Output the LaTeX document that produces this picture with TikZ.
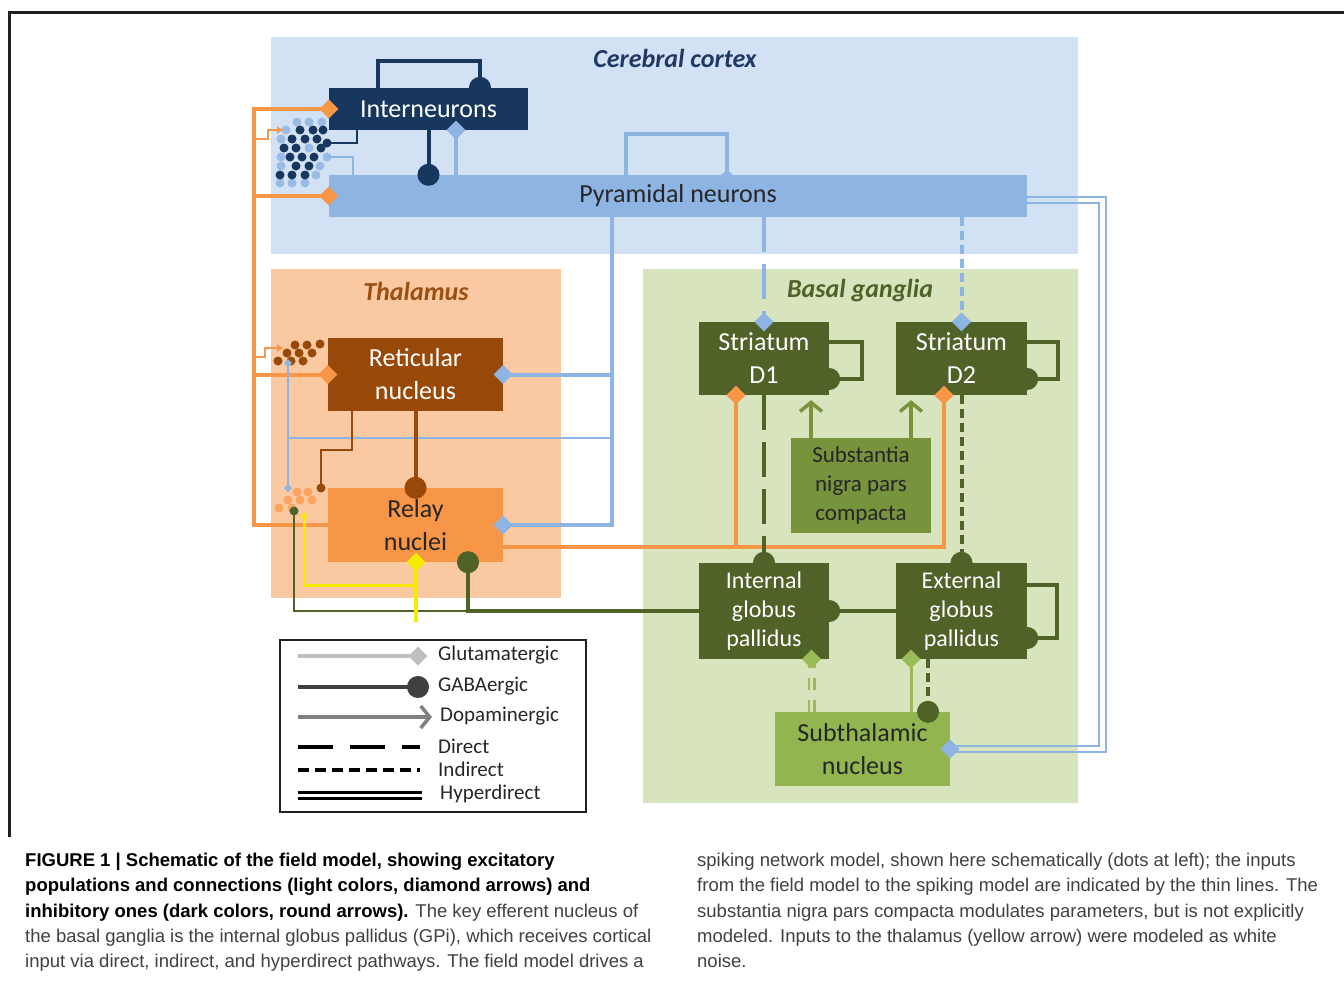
\documentclass[tikz,border=0pt]{standalone}
\usepackage{fontspec}
\setmainfont{Carlito}
\newfontfamily\capfont{Liberation Sans}
\usetikzlibrary{arrows.meta,calc}

\definecolor{cortexbg}{HTML}{D3E1F5}
\definecolor{navy}{HTML}{17375E}
\definecolor{pyrblue}{HTML}{8EB4E3}
\definecolor{thalbg}{HTML}{FAC9A2}
\definecolor{retbrown}{HTML}{984807}
\definecolor{relorange}{HTML}{F79646}
\definecolor{relspike}{HTML}{F9A45F}
\definecolor{bgbg}{HTML}{D7E4BD}
\definecolor{bgdark}{HTML}{4F6228}
\definecolor{sncgreen}{HTML}{77933C}
\definecolor{stngreen}{HTML}{92B550}
\definecolor{stnline}{HTML}{9BBB59}
\definecolor{noiseyellow}{HTML}{F7EC00}
\definecolor{frameblack}{HTML}{231F20}
\definecolor{captext}{HTML}{404040}
\definecolor{cortextitle}{HTML}{1F3864}
\definecolor{thaltitle}{HTML}{9C4F12}

\tikzset{
  box/.style={rectangle, inner sep=0pt, align=center},
  boxfont/.style={font=\fontsize{26}{33}\selectfont},
  gpfont/.style={font=\fontsize{24}{29}\selectfont},
  title/.style={font=\fontsize{26}{30}\selectfont\bfseries\itshape},
  legendtext/.style={anchor=west, inner sep=0pt, font=\fontsize{21}{24}\selectfont, text=black!85},
  wire/.style={line width=4pt},
  thinwire/.style={line width=2pt},
  glut/.style={-{Diamond[length=19pt,width=19pt]}, shorten >=-9.5pt},
  smallglut/.style={-{Diamond[length=8pt,width=8pt]}, shorten >=-4pt},
  gaba/.style={-{Circle[length=22pt]}, shorten >=-11pt},
  dopa/.style={-{Straight Barb[length=9pt,width=22pt]}, line width=3.5pt},
  spikein/.style={-{Triangle[length=6pt,width=7pt]}},
  direct/.style={dash pattern=on 35pt off 12pt},
  indirect/.style={dash pattern=on 9pt off 5pt},
  caption/.style={anchor=north west, inner sep=0pt, align=left, text=captext,
    font=\capfont\fontsize{18.5}{25.3}\selectfont}
}

\begin{document}
\begin{tikzpicture}[x=1pt, y=-1pt]
\useasboundingbox (0,0) rectangle (1344,980);
% frame
\draw[frameblack, line width=3pt] (9,837) -- (9,12) -- (1344,12);

% regions
\fill[cortexbg] (271,37) rectangle (1078,254);
\fill[thalbg] (271,269) rectangle (561,598);
\fill[bgbg] (643,269) rectangle (1078,803);
\node[title, text=cortextitle] (cortex) at (675,58) {Cerebral cortex};
\node[title, text=thaltitle] (thal) at (416,291) {Thalamus};
\node[title, text=bgdark] (bg) at (860,291) {Basal ganglia};

% populations
\node[box, boxfont, fill=navy, text=white, minimum width=199, minimum height=42] (intn) at (428.5,109) {Interneurons};
\node[box, boxfont, fill=pyrblue, text=black!85, minimum width=698, minimum height=42] (pyr) at (678,196) {Pyramidal neurons};
\node[box, boxfont, fill=retbrown, text=white, minimum width=175, minimum height=73] (ret) at (415.5,374.5) {Reticular\\nucleus};
\node[box, boxfont, fill=relorange, text=black!85, minimum width=175, minimum height=74] (rel) at (415.5,525) {Relay\\nuclei};
\node[box, boxfont, fill=bgdark, text=white, minimum width=130, minimum height=73] (d1) at (764,358.5) {Striatum\\D1};
\node[box, boxfont, fill=bgdark, text=white, minimum width=131, minimum height=73] (d2) at (961.5,358.5) {Striatum\\D2};
\node[box, font=\fontsize{23}{29}\selectfont, fill=sncgreen, text=black!85, minimum width=140, minimum height=95] (snc) at (861,485.5) {Substantia\\nigra pars\\compacta};
\node[box, gpfont, fill=bgdark, text=white, minimum width=130, minimum height=96] (gpi) at (764,611) {Internal\\globus\\pallidus};
\node[box, gpfont, fill=bgdark, text=white, minimum width=131, minimum height=96] (gpe) at (961.5,611) {External\\globus\\pallidus};
\node[box, boxfont, fill=stngreen, text=black!85, minimum width=175, minimum height=74] (stn) at (862.5,749) {Subthalamic\\nucleus};

% spiking network dots
\coordinate (cxorange) at (283,130);
\coordinate (cxnavy) at (327,143);
\coordinate (cxblue) at (327,157);
\coordinate (retorange) at (283,348);
\coordinate (retblue) at (288,363);
\coordinate (relblue) at (288,488);
\coordinate (relbrown) at (321,488);
\coordinate (relgreen) at (294,511);
\coordinate (relyellow) at (304,512);
\foreach \p in {(297,122),(309,122),(322,122),(286,130),(281,139),(309,148),(281,157),(327,157),
                (281,166),(320,166),(316,175),(280,183),(292,183),(305,183)}
  \fill[pyrblue!90!white] \p circle (4.5);
\foreach \p in {(300,130),(313,130),(323,130),(292,139),(305,139),(317,139),(327,143),(284,148),
                (296,148),(321,148),(290,157),(302,157),(314,157),(296,166),(309,166),(280,175),
                (292,175),(305,175)}
  \fill[navy] \p circle (4.5);
\foreach \p in {(295,345),(307,345),(320,344),(287,353),(299,353),(312,353),(278,361),(291,361),(303,361)}
  \fill[retbrown] \p circle (4.5);
\foreach \p in {(297,492),(308,492),(288,500),(300,500),(312,500),(279,508),(292,508)}
  \fill[relspike] \p circle (4.5);
\fill[retbrown] (relbrown) circle (4.5);
\fill[bgdark] (relgreen) circle (4.5);

% cortex
\draw[navy, wire, gaba] ([xshift=-50.5pt]intn.north) -- ++(0,-27) -| ([xshift=51.5pt]intn.north);
\draw[pyrblue, wire, -{Diamond[length=11pt,width=11pt]}, shorten >=-5.5pt]
  ([xshift=-52pt]pyr.north) -- ++(0,-41) -| ([xshift=49pt]pyr.north);
\draw[navy, wire, gaba] (intn.south) -- (intn.south |- pyr.north);
\coordinate (intnfb) at ([xshift=27.5pt]intn.south);
\draw[pyrblue, wire, glut] (intnfb |- pyr.north) -- (intnfb);
\draw[navy, thinwire] ([xshift=-71.5pt]intn.south) |- (cxnavy);
\draw[pyrblue, thinwire] ([xshift=-325pt]pyr.north) |- (cxblue);

% thalamus to cortex
\draw[relorange, wire, glut] (rel.west) -- ++(-74,0) coordinate (ocol) |- (intn.west);
\draw[relorange, wire, glut] (ocol |- pyr.west) -- (pyr.west);
\draw[relorange, wire, glut] (ocol |- ret.west) -- (ret.west);
\draw[relorange, thinwire, spikein] ($(ocol |- cxorange)+(0,9)$) -- ++(14,0) |- (cxorange);
\draw[relorange, thinwire, spikein] ($(ocol |- retorange)+(0,9)$) -- ++(11,0) |- (retorange);

% cortex to thalamus
\draw[pyrblue, wire, glut] ([xshift=-66pt]pyr.south) coordinate (bcol) |- (rel.east);
\draw[pyrblue, wire, glut] (bcol |- ret.east) -- (ret.east);
\coordinate (bjoin) at (288,438);
\draw[pyrblue, thinwire] (bcol |- bjoin) -- (bjoin);
\draw[pyrblue, thinwire, smallglut] (bjoin) -- (retblue);
\draw[pyrblue, thinwire, smallglut] (bjoin) -- (relblue);

% reticular to relay
\draw[retbrown, wire, gaba] (ret.south) -- (rel.north);
\draw[retbrown, thinwire] ([xshift=-63.5pt]ret.south) |- ($(relbrown)+(0,-38)$) -- (relbrown);

% cortex to striatum
\draw[pyrblue, wire, direct, glut] (pyr.south -| d1.north) -- (d1.north);
\draw[pyrblue, wire, indirect, glut] (pyr.south -| d2.north) -- (d2.north);
\draw[bgdark, wire, gaba] ([yshift=16.5pt]d1.east) -- ++(33,0) |- ([yshift=-20.5pt]d1.east);
\draw[bgdark, wire, gaba] ([yshift=16.5pt]d2.east) -- ++(31,0) |- ([yshift=-20.5pt]d2.east);

% substantia nigra
\coordinate (sncl) at ([xshift=-50pt]snc.north);
\coordinate (sncr) at ([xshift=50pt]snc.north);
\draw[sncgreen, dopa, shorten >=5pt] (sncl) -- (sncl |- d1.south);
\draw[sncgreen, dopa, shorten >=5pt] (sncr) -- (sncr |- d2.south);

% thalamus to striatum
\coordinate (relout) at ([yshift=-22pt]rel.east);
\coordinate (d1in) at ([xshift=-28pt]d1.south);
\coordinate (d2in) at ([xshift=-17.5pt]d2.south);
\draw[relorange, wire, glut] (relout) -| (d2in);
\draw[relorange, wire, glut] (relout -| d1in) -- (d1in);

% striatum to pallidus
\draw[bgdark, wire, direct, gaba] (d1.south) -- (gpi.north);
\draw[bgdark, wire, indirect, gaba] (d2.south) -- (gpe.north);
\draw[bgdark, wire, gaba] (gpe.west) -- (gpi.east);
\draw[bgdark, wire, gaba] ([yshift=26pt]gpe.east) -- ++(30,0) |- ([yshift=-27pt]gpe.east);

% pallidus to relay
\coordinate (relin) at ([xshift=52.5pt]rel.south);
\draw[bgdark, wire, gaba] (gpi.west) -| (relin);
\draw[bgdark, thinwire] (relin |- gpi.west) -| (relgreen);

% noise input
\coordinate (noise) at (416,622);
\coordinate (ybr) at (416,585);
\draw[noiseyellow, wire, glut] (noise) -- (noise |- rel.south);
\draw[noiseyellow, line width=3pt, spikein] (ybr) -| (relyellow);

% subthalamic nucleus
\coordinate (stnl) at ([xshift=-51pt]stn.north);
\coordinate (stnr) at ([xshift=48.5pt]stn.north);
\coordinate (gpeout) at ([xshift=-33.5pt]gpe.south);
\draw[stnline, line width=2.5pt, double=bgbg, double distance=3pt, dash pattern=on 12pt off 10pt]
  (stnl) -- ($(stnl |- gpi.south)+(0,6)$);
\draw[stnline, wire, glut] ($(stnl |- gpi.south)+(0,4)$) -- (stnl |- gpi.south);
\draw[stnline, line width=3pt, glut] (stnr) -- (stnr |- gpe.south);
\draw[bgdark, wire, indirect, gaba] (gpeout) -- (gpeout |- stn.north);

% hyperdirect
\draw[pyrblue, line width=2.5pt] ([yshift=-1pt]pyr.east) -- ++(79,0) |- ([yshift=-3pt]stn.east);
\draw[pyrblue, line width=2.5pt] ([yshift=-7pt]pyr.east) -- ++(72,0) |- ([yshift=3pt]stn.east);
\draw[pyrblue, wire, glut] ([xshift=3pt]stn.east) -- (stn.east);

% legend
\draw[frameblack, line width=2.5pt, fill=white] (280,640) rectangle (586,812);
\draw[black!25, wire, glut] (298,656) -- (418,656);
\draw[black!75, wire, gaba] (298,687) -- (418,687);
\draw[black!50, dopa] (298,717) -- (432,717);
\draw[black, wire, dash pattern=on 35pt off 17pt] (298,747) -- (420,747);
\draw[black, wire, dash pattern=on 11pt off 6pt] (298,770) -- (420,770);
\draw[black, line width=3pt, double=white, double distance=3pt] (298,795) -- (422,795);
\node[legendtext] (lglut) at (438,655) {Glutamatergic};
\node[legendtext] (lgaba) at (438,686) {GABAergic};
\node[legendtext] (ldopa) at (440,716) {Dopaminergic};
\node[legendtext] (ldir) at (438,746) {Direct};
\node[legendtext] (lind) at (438,769) {Indirect};
\node[legendtext] (lhyp) at (440,794) {Hyperdirect};

% caption
\node[caption] (capl) at (25,853) {{\bfseries\color{black}FIGURE 1 | Schematic of the field model, showing excitatory}\\
{\bfseries\color{black}populations and connections (light colors, diamond arrows) and}\\
{\bfseries\color{black}inhibitory ones (dark colors, round arrows).} The key efferent nucleus of\\
the basal ganglia is the internal globus pallidus (GPi), which receives cortical\\
input via direct, indirect, and hyperdirect pathways. The field model drives a};
\node[caption] (capr) at (697,853) {spiking network model, shown here schematically (dots at left); the inputs\\
from the field model to the spiking model are indicated by the thin lines. The\\
substantia nigra pars compacta modulates parameters, but is not explicitly\\
modeled. Inputs to the thalamus (yellow arrow) were modeled as white\\
noise.};
\end{tikzpicture}
\end{document}
